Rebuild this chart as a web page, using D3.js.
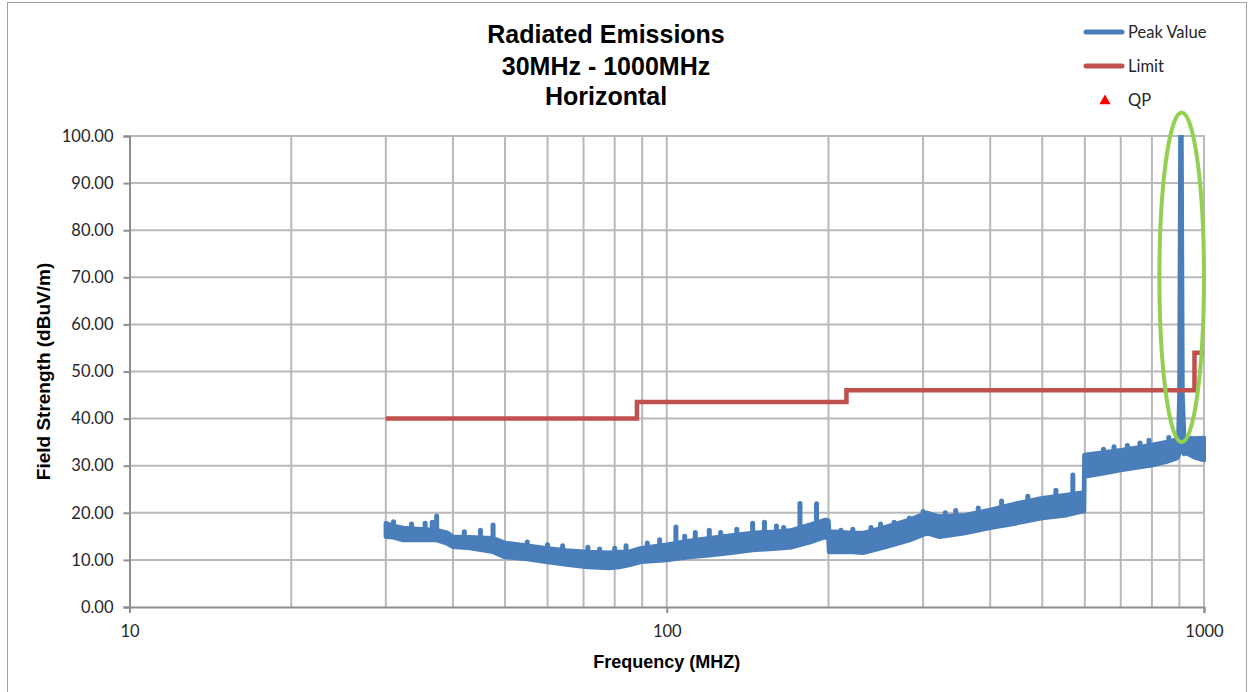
<!DOCTYPE html>
<html>
<head>
<meta charset="utf-8">
<script src="https://cdn.jsdelivr.net/npm/d3@7"></script>
<style>
    body { margin: 0; background: #fff; }
    text { font-family: Lato, "Open Sans", sans-serif; fill: #262626; }
    .bold { font-family: "Liberation Sans", Arial, sans-serif; font-weight: bold; fill: #000; }
</style>
</head>
<body>
<svg id="chart" width="1252" height="692"></svg>
<script>
// title lines
var titleLines = ["Radiated Emissions", "30MHz - 1000MHz", "Horizontal"];

// axis ticks
var yTicks = [0, 10, 20, 30, 40, 50, 60, 70, 80, 90, 100];
var xGrid = [20, 30, 40, 50, 60, 70, 80, 90, 100, 200, 300, 400, 500, 600, 700, 800, 900, 1000];
var xLabels = [10, 100, 1000];

// peak value trace, read as a band: frequency (MHz), lower and upper edge (dBuV/m)
var peakFreq = [30, 31, 32.3, 35, 37.3, 39, 40, 43, 47.5, 50, 55, 59.6, 65, 71.3, 78.3, 81.6, 85, 89.6,
    100, 110, 120, 132, 144.5, 160, 171, 185, 197.5, 200, 200.5, 205, 222, 232, 256, 283, 305, 322,
    359, 400, 448, 500, 555, 588, 598, 599, 650, 700, 750, 800, 850, 890, 896, 900, 904, 908, 912,
    918, 927, 960, 1000];
var peakLow = [14.9, 14.8, 14.2, 14.3, 14.2, 13.5, 12.8, 12.5, 11.7, 10.6, 10.2, 9.6, 9.0, 8.5, 8.3, 8.5, 8.9, 9.6,
    10.0, 10.6, 11.0, 11.5, 12.1, 12.4, 12.7, 13.8, 14.9, 14.5, 11.7, 11.7, 11.7, 11.5, 12.8, 14.2, 15.7, 14.9,
    15.7, 16.8, 17.8, 18.9, 19.5, 20.2, 20.3, 27.7, 28.4, 29.1, 29.6, 30.1, 30.8, 31.6, 32.0, 33.0, 34.0, 34.0, 33.0,
    32.5, 32.7, 31.8, 31.2];
var peakHigh = [17.8, 17.2, 16.8, 16.5, 16.3, 15.8, 14.9, 14.8, 14.6, 13.6, 13.0, 12.5, 12.0, 11.7, 11.5, 11.7, 11.7, 12.5,
    13.2, 14.0, 14.6, 15.2, 15.7, 16.0, 16.3, 17.5, 18.5, 18.3, 16.0, 16.0, 15.7, 15.7, 17.0, 18.5, 20.0, 19.2,
    19.5, 20.6, 22.0, 23.1, 23.8, 24.2, 24.4, 32.3, 32.8, 33.3, 33.8, 34.4, 35.0, 35.5, 36.0, 45.0, 100, 100, 45.0,
    36.5, 35.9, 35.8, 35.9];

// spurs and small bumps sticking out of the trace
var spurFreq = [31, 33.5, 35.5, 36.6, 37.3, 42, 45, 47.5, 55, 60, 64, 71.3, 75, 80, 84, 92, 97,
    104, 108, 113, 120, 126, 135, 144.5, 152, 160, 165, 177, 190, 211, 222, 240, 250, 265, 283,
    300, 330, 345, 380, 420, 470, 530, 570, 650, 680, 720, 760, 790, 860];
var spurValue = [18.1, 17.6, 17.8, 18.0, 19.3, 16.0, 16.3, 17.4, 13.8, 13.2, 13.0, 12.7, 12.3, 12.5, 13.0, 13.6, 14.3,
    17.0, 15.0, 15.8, 16.3, 15.8, 16.5, 17.8, 18.0, 17.2, 16.9, 22.0, 21.9, 16.3, 16.5, 16.9, 17.6, 18.0, 18.9,
    20.3, 20.0, 20.5, 21.0, 22.5, 23.5, 24.8, 28.0, 33.5, 34.0, 34.3, 34.8, 35.4, 36.0];

// limit line steps
var limitFreq = [30, 88, 88, 216, 216, 960, 960, 1000];
var limitValue = [40, 40, 43.5, 43.5, 46, 46, 54, 54];

// quasi-peak points (none plotted)
var qpFreq = [];
var qpValue = [];

// highlighted region around the carrier
var markFreq = [826, 1000];
var markValue = [35, 105];

var legendNames = ["Peak Value", "Limit", "QP"];

var blue = "#4A7EBB", red = "#C0504D", gridColor = "#B9B9B9", axisColor = "#8E8E8E";

var svg = d3.select("#chart");
var plotLeft = 129.5, plotRight = 1204, plotTop = 136, plotBottom = 607;

var x = d3.scaleLog().domain([10, 1000]).range([plotLeft, plotRight]);
var y = d3.scaleLinear().domain([0, 100]).range([plotBottom, plotTop]);

// frame
svg.append("rect")
    .attr("x", 7.5).attr("y", 2.5)
    .attr("width", 1239).attr("height", 720)
    .attr("fill", "none")
    .attr("stroke", "#A0A0A0")
    .attr("stroke-width", 1);

// title
svg.append("g").selectAll("text")
    .data(titleLines)
    .enter().append("text")
    .attr("class", "bold")
    .attr("x", 606)
    .attr("y", (d, i) => [43, 75, 105][i])
    .attr("text-anchor", "middle")
    .attr("font-size", "25px")
    .text(d => d);

// grid
var grid = svg.append("g");
grid.selectAll(".hgrid")
    .data(yTicks.slice(1))
    .enter().append("line")
    .attr("x1", plotLeft).attr("x2", plotRight)
    .attr("y1", d => y(d)).attr("y2", d => y(d))
    .attr("stroke", gridColor).attr("stroke-width", 2);
grid.selectAll(".vgrid")
    .data(xGrid)
    .enter().append("line")
    .attr("x1", d => x(d)).attr("x2", d => x(d))
    .attr("y1", plotTop - 1).attr("y2", plotBottom)
    .attr("stroke", gridColor).attr("stroke-width", 2);

// axes
var yAxis = d3.axisLeft(y).tickValues(yTicks).tickSize(6).tickPadding(10).tickFormat(d3.format(".2f"));
svg.append("g")
    .attr("transform", "translate(" + plotLeft + ",0)")
    .call(yAxis)
    .call(g => g.select(".domain").attr("stroke", axisColor).attr("stroke-width", 2))
    .call(g => g.selectAll(".tick line").attr("stroke", axisColor).attr("stroke-width", 2))
    .call(g => g.selectAll(".tick text").attr("font-size", "16.5px").attr("font-family", "Lato").attr("fill", "#262626"));

var xAxis = d3.axisBottom(x).tickValues(xLabels).tickSize(6).tickPadding(12).tickFormat(d3.format("d"));
svg.append("g")
    .attr("transform", "translate(0," + plotBottom + ")")
    .call(xAxis)
    .call(g => g.select(".domain").attr("stroke", axisColor).attr("stroke-width", 2))
    .call(g => g.selectAll(".tick line").attr("stroke", axisColor).attr("stroke-width", 2))
    .call(g => g.selectAll(".tick text").attr("font-size", "16.5px").attr("font-family", "Lato").attr("fill", "#262626"));

svg.append("text")
    .attr("class", "bold")
    .attr("x", x(100)).attr("y", 668)
    .attr("text-anchor", "middle")
    .attr("font-size", "18px")
    .text("Frequency (MHZ)");

svg.append("text")
    .attr("class", "bold")
    .attr("transform", "translate(50," + ((plotTop + plotBottom) / 2) + ") rotate(-90)")
    .attr("text-anchor", "middle")
    .attr("font-size", "19px")
    .text("Field Strength (dBuV/m)");

// data
svg.append("clipPath").attr("id", "plot")
    .append("rect")
    .attr("x", plotLeft).attr("y", plotTop - 1)
    .attr("width", plotRight - plotLeft + 2).attr("height", plotBottom - plotTop + 1);
var plot = svg.append("g").attr("clip-path", "url(#plot)");

var band = d3.area()
    .x((d, i) => x(peakFreq[i]))
    .y0((d, i) => y(peakLow[i]))
    .y1((d, i) => y(peakHigh[i]));

plot.append("path")
    .attr("d", band(peakFreq))
    .attr("fill", blue)
    .attr("stroke", blue)
    .attr("stroke-width", 4.5)
    .attr("stroke-linejoin", "round");

// spur foot sits inside the band: take the higher of the two neighbouring lower edges
var findBase = d3.bisector(d => d).left;
function spurBase(f) {
    var i = Math.min(findBase(peakFreq, f), peakFreq.length - 1);
    var j = Math.max(i - 1, 0);
    return Math.max(peakLow[i], peakLow[j]) + 0.5;
}

plot.selectAll(".spur")
    .data(spurFreq)
    .enter().append("line")
    .attr("x1", d => x(d)).attr("x2", d => x(d))
    .attr("y1", (d, i) => y(spurValue[i]))
    .attr("y2", d => y(spurBase(d)))
    .attr("stroke", blue)
    .attr("stroke-width", 5)
    .attr("stroke-linecap", "round");

var limitLine = d3.line()
    .x((d, i) => x(limitFreq[i]))
    .y((d, i) => y(limitValue[i]));

svg.append("path")
    .attr("d", limitLine(limitFreq))
    .attr("fill", "none")
    .attr("stroke", red)
    .attr("stroke-width", 4.5)
    .attr("stroke-linejoin", "miter");

svg.selectAll(".qp")
    .data(qpFreq)
    .enter().append("path")
    .attr("d", d3.symbol(d3.symbolTriangle, 60))
    .attr("transform", (d, i) => "translate(" + x(d) + "," + y(qpValue[i]) + ")")
    .attr("fill", "#FF0000");

// highlight ellipse
var ex0 = x(markFreq[0]), ex1 = x(markFreq[1]);
var ey0 = y(markValue[1]), ey1 = y(markValue[0]);
svg.append("ellipse")
    .attr("cx", (ex0 + ex1) / 2).attr("cy", (ey0 + ey1) / 2)
    .attr("rx", (ex1 - ex0) / 2).attr("ry", (ey1 - ey0) / 2)
    .attr("fill", "none")
    .attr("stroke", "#92D050")
    .attr("stroke-width", 4);

// legend
var legend = svg.append("g").attr("transform", "translate(1084,0)");
var legendY = [32, 66, 100];
legend.selectAll("text")
    .data(legendNames)
    .enter().append("text")
    .attr("x", 44)
    .attr("y", (d, i) => legendY[i] + 6)
    .attr("font-size", "16.5px")
    .text(d => d);
legend.append("line")
    .attr("x1", 2).attr("x2", 38).attr("y1", legendY[0]).attr("y2", legendY[0])
    .attr("stroke", blue).attr("stroke-width", 5).attr("stroke-linecap", "round");
legend.append("line")
    .attr("x1", 2).attr("x2", 38).attr("y1", legendY[1]).attr("y2", legendY[1])
    .attr("stroke", red).attr("stroke-width", 5).attr("stroke-linecap", "round");
legend.append("path")
    .attr("d", d3.symbol(d3.symbolTriangle, 55))
    .attr("transform", "translate(21," + (legendY[2] + 1) + ")")
    .attr("fill", "#FF0000");
</script>
</body>
</html>
